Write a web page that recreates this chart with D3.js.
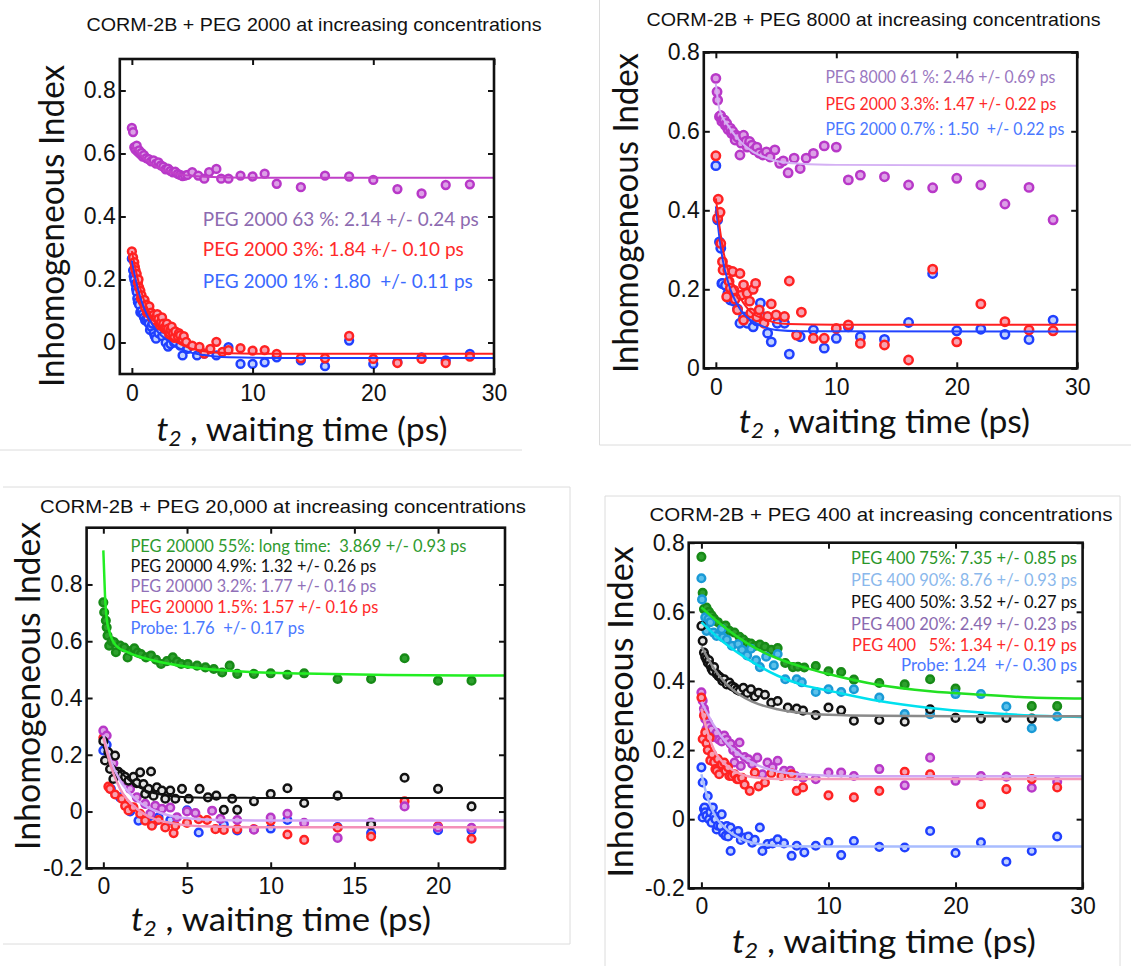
<!DOCTYPE html>
<html>
<head>
<meta charset="utf-8">
<script src="https://cdnjs.cloudflare.com/ajax/libs/d3/7.8.5/d3.min.js"></script>
<style>
  body { margin: 0; background: #fff; }
  svg { display: block; }
</style>
</head>
<body>
<svg id="chart" width="1131" height="966"></svg>
<script>
// ---------- Panel 1: CORM-2B + PEG 2000 ----------
const p1XTicks = [0, 10, 20, 30];
const p1YTicks = [0, 0.2, 0.4, 0.6, 0.8];
const p1Purple = [[0,0.681],[0.1,0.668],[0.2,0.62],[0.3,0.612],[0.4,0.625],[0.5,0.605],[0.6,0.61],[0.7,0.598],[0.8,0.602],[0.9,0.59],[1.0,0.595],[1.2,0.585],[1.4,0.582],[1.6,0.575],[1.8,0.578],[2.0,0.568],[2.2,0.572],[2.4,0.562],[2.6,0.558],[2.8,0.55],[3.0,0.552],[3.2,0.545],[3.4,0.54],[3.6,0.542],[3.8,0.535],[4.0,0.532],[4.2,0.528],[4.4,0.53],[4.6,0.532],[5.0,0.541],[5.5,0.53],[6.0,0.52],[6.4,0.541],[7.0,0.551],[7.4,0.52],[8.0,0.52],[9,0.53],[10,0.527],[11,0.536],[12,0.504],[14,0.493],[16,0.53],[18,0.527],[20,0.516],[22,0.487],[24,0.473],[26,0.50],[28,0.502]];
const p1Blue = [[0,0.266],[0.1,0.229],[0.15,0.21],[0.2,0.2],[0.3,0.186],[0.35,0.17],[0.4,0.16],[0.45,0.14],[0.5,0.128],[0.6,0.12],[0.7,0.096],[0.8,0.1],[0.9,0.09],[1.0,0.08],[1.1,0.07],[1.2,0.075],[1.3,0.08],[1.4,0.06],[1.5,0.04],[1.6,0.05],[1.7,0.06],[1.8,0.03],[1.9,0.02],[2.0,0.012],[2.2,0.03],[2.5,0.02],[2.8,0.0],[3.0,-0.013],[3.2,-0.005],[3.5,0.0],[4.0,-0.01],[4.2,-0.041],[4.6,-0.02],[5.4,-0.041],[6,-0.035],[7,-0.041],[8,-0.015],[9,-0.068],[10,-0.068],[11,-0.063],[12,-0.047],[14,-0.057],[16,-0.075],[18,0.006],[20,-0.068],[22,-0.062],[24,-0.047],[26,-0.057],[28,-0.036]];
const p1Red = [[0,0.289],[0.1,0.27],[0.2,0.255],[0.25,0.24],[0.3,0.23],[0.4,0.218],[0.5,0.19],[0.55,0.2],[0.6,0.175],[0.7,0.165],[0.75,0.14],[0.8,0.15],[0.9,0.13],[1.0,0.125],[1.05,0.135],[1.1,0.11],[1.2,0.12],[1.25,0.095],[1.3,0.1],[1.4,0.105],[1.45,0.115],[1.5,0.09],[1.6,0.095],[1.65,0.08],[1.7,0.085],[1.8,0.088],[1.9,0.07],[2.0,0.08],[2.1,0.09],[2.2,0.075],[2.3,0.055],[2.4,0.065],[2.5,0.08],[2.6,0.06],[2.7,0.045],[2.8,0.05],[2.9,0.06],[3.0,0.044],[3.1,0.025],[3.2,0.04],[3.3,0.05],[3.4,0.03],[3.5,0.015],[3.6,0.035],[3.8,0.02],[3.9,0.03],[4.0,0.023],[4.2,0.01],[4.3,0.02],[4.5,0.002],[5.0,-0.01],[5.6,-0.014],[6.0,-0.035],[6.5,-0.02],[7.0,0.002],[7.5,-0.03],[8.0,-0.024],[9,-0.018],[10,-0.026],[11,-0.024],[12,-0.036],[14,-0.05],[16,-0.05],[18,0.021],[20,-0.052],[22,-0.065],[24,-0.052],[26,-0.065],[28,-0.045]];
const p1PurpleFit = [[0,0.625],[1,0.585],[2,0.558],[3,0.543],[4,0.533],[6,0.526],[10,0.523],[30,0.523]];
const p1RedFit = [[0,0.29],[0.5,0.2],[1,0.135],[2,0.06],[3,0.02],[4,-0.005],[6,-0.028],[8,-0.034],[12,-0.036],[30,-0.036]];
const p1BlueFit = [[0,0.26],[0.5,0.17],[1,0.11],[2,0.04],[3,0.005],[4,-0.02],[6,-0.04],[8,-0.047],[12,-0.049],[30,-0.049]];
const p1Legend = ["PEG 2000 63 %: 2.14 +/- 0.24 ps", "PEG 2000 3%: 1.84 +/- 0.10 ps", "PEG 2000 1% : 1.80  +/- 0.11 ps"];

// ---------- Panel 2: CORM-2B + PEG 8000 ----------
const p2XTicks = [0, 10, 20, 30];
const p2YTicks = [0, 0.2, 0.4, 0.6, 0.8];
const p2Purple = [[0,0.734],[0.1,0.70],[0.15,0.679],[0.3,0.637],[0.4,0.64],[0.5,0.625],[0.6,0.63],[0.7,0.629],[0.8,0.615],[0.9,0.62],[1.0,0.605],[1.2,0.608],[1.3,0.595],[1.4,0.6],[1.6,0.578],[1.7,0.59],[1.8,0.585],[2.0,0.54],[2.1,0.57],[2.3,0.59],[2.5,0.575],[2.6,0.56],[2.8,0.574],[3.0,0.565],[3.2,0.553],[3.4,0.56],[3.6,0.545],[3.9,0.54],[4.2,0.548],[4.5,0.535],[4.9,0.553],[5.3,0.519],[5.6,0.525],[6.0,0.495],[6.5,0.532],[7.0,0.506],[7.5,0.532],[8.1,0.544],[9,0.563],[10,0.56],[11,0.477],[12,0.489],[14,0.485],[16,0.464],[18,0.457],[20,0.481],[22,0.464],[24,0.416],[26,0.458],[28,0.376]];
const p2Blue = [[0,0.513],[0.15,0.376],[0.3,0.32],[0.41,0.304],[0.5,0.215],[0.55,0.215],[0.8,0.21],[1.0,0.19],[1.2,0.173],[1.5,0.17],[1.8,0.15],[2.0,0.114],[2.3,0.13],[2.6,0.114],[3.1,0.105],[3.4,0.12],[3.7,0.165],[4.0,0.13],[4.3,0.089],[4.6,0.067],[5.1,0.114],[5.7,0.114],[6.1,0.036],[7.0,0.08],[8.1,0.097],[9,0.051],[10,0.076],[11,0.105],[12,0.08],[14,0.073],[16,0.116],[18,0.24],[20,0.095],[22,0.099],[24,0.086],[26,0.073],[28,0.122]];
const p2Red = [[0,0.538],[0.15,0.38],[0.2,0.428],[0.35,0.395],[0.41,0.316],[0.55,0.27],[0.6,0.249],[0.9,0.181],[1.0,0.249],[1.1,0.22],[1.2,0.203],[1.4,0.245],[1.5,0.198],[1.6,0.175],[1.8,0.148],[2.0,0.24],[2.1,0.185],[2.3,0.211],[2.3,0.122],[2.6,0.19],[2.8,0.17],[2.9,0.14],[3.1,0.2],[3.3,0.215],[3.4,0.13],[3.6,0.148],[4.0,0.114],[4.3,0.131],[4.6,0.163],[5.0,0.135],[5.7,0.131],[6.1,0.221],[6.7,0.084],[7.1,0.142],[8.1,0.076],[9,0.076],[10,0.101],[11,0.11],[12,0.063],[14,0.059],[16,0.021],[18,0.251],[20,0.067],[22,0.163],[24,0.118],[26,0.097],[28,0.095]];
const p2PurpleFit = [[0,0.72],[0.3,0.655],[1,0.615],[2,0.575],[3,0.55],[4,0.535],[5,0.525],[7,0.518],[10,0.515],[30,0.513]];
const p2RedFit = [[0,0.43],[0.3,0.36],[0.6,0.3],[1,0.25],[2,0.18],[3,0.14],[4,0.125],[5,0.115],[6,0.112],[10,0.11],[30,0.11]];
const p2BlueFit = [[0,0.41],[0.3,0.33],[0.6,0.27],[1,0.22],[2,0.15],[3,0.12],[4,0.105],[5,0.097],[7,0.094],[30,0.093]];
const p2Legend = ["PEG 8000 61 %: 2.46 +/- 0.69 ps", "PEG 2000 3.3%: 1.47 +/- 0.22 ps", "PEG 2000 0.7% : 1.50  +/- 0.22 ps"];

// ---------- Panel 3: CORM-2B + PEG 20,000 ----------
const p3XTicks = [0, 5, 10, 15, 20];
const p3YTicks = [-0.2, 0, 0.2, 0.4, 0.6, 0.8];
const p3Green = [[0,0.737],[0.05,0.702],[0.15,0.673],[0.2,0.649],[0.25,0.62],[0.35,0.584],[0.5,0.6],[0.65,0.596],[0.75,0.561],[1.0,0.585],[1.25,0.578],[1.45,0.543],[1.65,0.565],[1.85,0.575],[2.05,0.56],[2.25,0.555],[2.55,0.543],[2.85,0.55],[3.15,0.535],[3.45,0.52],[3.8,0.53],[4.15,0.543],[4.4,0.528],[4.65,0.52],[5.05,0.52],[5.6,0.514],[6.1,0.508],[6.6,0.502],[7.1,0.49],[7.55,0.514],[8,0.485],[9,0.485],[10,0.487],[11,0.482],[12,0.487],[14,0.467],[16,0.467],[18,0.54],[20,0.461],[22,0.461]];
const p3Blue = [[0,0.215],[0.2,0.235],[0.45,0.08],[1.0,0.05],[1.6,0.0],[2.1,-0.032],[3.0,-0.038],[3.3,-0.02],[4.0,-0.03],[5.0,0.004],[5.7,-0.074],[7.2,-0.046],[8,-0.067],[10,-0.06],[11,-0.03],[14,-0.055],[16,-0.076],[20,-0.066],[22,-0.066]];
const p3Red = [[0,0.26],[0.3,0.088],[0.4,0.08],[0.7,0.06],[1.1,0.045],[1.3,0.02],[1.5,0.004],[1.8,0.015],[2.2,-0.008],[2.5,-0.032],[2.9,-0.05],[3.3,-0.03],[3.7,-0.056],[4.2,-0.076],[4.3,-0.05],[5.0,-0.04],[5.7,-0.027],[6.2,-0.03],[6.7,-0.062],[7.2,-0.065],[8,-0.062],[9,-0.062],[10,-0.033],[11,-0.081],[12,-0.1],[14,-0.057],[16,-0.088],[18,0.036],[20,-0.052],[22,-0.096]];
const p3Purple = [[0,0.285],[0.2,0.268],[0.4,0.2],[0.6,0.17],[0.9,0.13],[1.3,0.109],[1.6,0.08],[2.0,0.05],[2.5,0.027],[2.8,-0.008],[3.1,0.02],[3.5,0.01],[4.0,0.014],[4.4,-0.02],[5.0,0.0],[5.5,-0.005],[6.5,0.003],[7.0,-0.026],[8.0,-0.03],[9,-0.064],[10,-0.021],[11,-0.008],[12,-0.04],[14,-0.093],[16,-0.039],[18,0.018],[20,-0.056],[22,-0.057]];
const p3Black = [[0,0.248],[0.1,0.18],[0.3,0.209],[0.4,0.15],[0.6,0.115],[0.7,0.197],[0.9,0.14],[1.1,0.13],[1.3,0.122],[1.5,0.109],[1.8,0.122],[2.0,0.1],[2.2,0.138],[2.4,0.097],[2.5,0.062],[2.7,0.08],[2.85,0.141],[3.0,0.056],[3.2,0.085],[3.5,0.074],[3.7,0.045],[4.0,0.074],[4.3,0.045],[4.7,0.08],[5.1,0.045],[5.75,0.08],[6.25,0.05],[6.75,0.056],[7.2,0.006],[7.7,0.045],[8,0.006],[9,0.036],[10,0.062],[11,0.082],[12,0.03],[14,0.056],[16,-0.046],[18,0.119],[20,0.08],[22,0.018]];
const p3GreenFit = [[0,0.92],[0.1,0.76],[0.2,0.68],[0.35,0.637],[0.75,0.585],[1.5,0.56],[3,0.532],[5,0.51],[8,0.494],[12,0.486],[17,0.481],[24,0.479]];
const p3BlackFit = [[0,0.23],[0.5,0.17],[1,0.14],[2,0.09],[3,0.065],[4,0.055],[6,0.049],[10,0.048],[24,0.048]];
const p3PurpleFit = [[0,0.27],[0.5,0.17],[1,0.11],[2,0.04],[3,0.005],[4,-0.015],[6,-0.028],[8,-0.031],[12,-0.032],[24,-0.032]];
const p3RedFit = [[0,0.26],[0.5,0.15],[1,0.08],[2,0.01],[3,-0.025],[4,-0.04],[6,-0.052],[9,-0.055],[24,-0.055]];
const p3Legend = ["PEG 20000 55%: long time:  3.869 +/- 0.93 ps", "PEG 20000 4.9%: 1.32 +/- 0.26 ps", "PEG 20000 3.2%: 1.77 +/- 0.16 ps", "PEG 20000 1.5%: 1.57 +/- 0.16 ps", "Probe: 1.76  +/- 0.17 ps"];

// ---------- Panel 4: CORM-2B + PEG 400 ----------
const p4XTicks = [0, 10, 20, 30];
const p4YTicks = [-0.2, 0, 0.2, 0.4, 0.6, 0.8];
const p4Green = [[0,0.759],[0.1,0.655],[0.2,0.608],[0.4,0.612],[0.6,0.6],[0.8,0.59],[1.0,0.58],[1.3,0.57],[1.6,0.555],[1.9,0.56],[2.2,0.545],[2.6,0.54],[3.0,0.528],[3.3,0.52],[3.6,0.51],[3.9,0.508],[4.2,0.501],[4.6,0.505],[5.0,0.499],[5.5,0.49],[6.0,0.495],[6.6,0.452],[7.2,0.44],[7.6,0.441],[8.1,0.439],[9,0.443],[10,0.428],[11,0.426],[12,0.404],[14,0.394],[16,0.39],[18,0.405],[20,0.378],[26,0.327],[28,0.327]];
const p4Cyan = [[0,0.697],[0.05,0.636],[0.3,0.584],[0.4,0.545],[0.55,0.579],[0.7,0.57],[0.95,0.54],[1.2,0.53],[1.6,0.55],[1.7,0.526],[2.0,0.52],[2.4,0.502],[2.9,0.507],[3.2,0.49],[3.6,0.474],[3.9,0.493],[4.3,0.46],[4.6,0.44],[5.1,0.47],[5.7,0.445],[6.0,0.478],[6.6,0.405],[7.5,0.405],[7.9,0.396],[9,0.368],[10,0.376],[11,0.368],[12,0.376],[14,0.352],[16,0.304],[18,0.304],[20,0.362],[22,0.362],[24,0.326],[26,0.263],[28,0.297]];
const p4Black = [[0,0.559],[0.1,0.516],[0.2,0.482],[0.3,0.47],[0.4,0.463],[0.5,0.453],[0.6,0.46],[0.7,0.445],[0.8,0.435],[0.9,0.429],[1.0,0.44],[1.2,0.42],[1.35,0.414],[1.5,0.41],[1.65,0.4],[1.8,0.405],[2.0,0.39],[2.2,0.395],[2.4,0.385],[2.6,0.381],[2.8,0.375],[3.0,0.371],[3.3,0.38],[3.6,0.365],[3.9,0.376],[4.2,0.355],[4.5,0.366],[5.0,0.36],[5.5,0.337],[6.0,0.342],[6.8,0.323],[7.5,0.32],[8.0,0.314],[9,0.301],[10,0.323],[11,0.315],[12,0.285],[14,0.287],[16,0.282],[18,0.318],[20,0.293],[22,0.291],[24,0.293],[26,0.291]];
const p4Purple = [[0,0.367],[0.1,0.343],[0.2,0.32],[0.25,0.309],[0.3,0.29],[0.4,0.261],[0.5,0.28],[0.6,0.27],[0.7,0.25],[0.8,0.26],[1.0,0.237],[1.2,0.25],[1.4,0.23],[1.6,0.225],[1.8,0.242],[2.0,0.23],[2.3,0.218],[2.5,0.2],[2.6,0.164],[2.8,0.19],[3.0,0.222],[3.1,0.154],[3.4,0.18],[3.7,0.173],[4.0,0.16],[4.4,0.178],[4.8,0.13],[5.2,0.164],[5.6,0.15],[6.0,0.169],[6.5,0.14],[7.0,0.14],[7.4,0.125],[8,0.12],[9,0.116],[10,0.135],[11,0.135],[12,0.125],[14,0.145],[16,0.098],[18,0.178],[20,0.111],[22,0.125],[24,0.123],[26,0.091],[28,0.108]];
const p4Red = [[0,0.352],[0.1,0.232],[0.2,0.3],[0.3,0.251],[0.4,0.22],[0.5,0.2],[0.65,0.236],[0.7,0.17],[0.85,0.188],[1.0,0.165],[1.1,0.145],[1.2,0.14],[1.3,0.174],[1.4,0.13],[1.6,0.159],[1.8,0.164],[1.9,0.14],[2.1,0.15],[2.2,0.125],[2.4,0.125],[2.6,0.13],[2.8,0.116],[2.9,0.116],[3.2,0.12],[3.4,0.1],[3.8,0.082],[4.2,0.135],[4.5,0.095],[5.0,0.106],[5.5,0.133],[6.3,0.125],[7.1,0.13],[7.5,0.082],[8,0.092],[10,0.069],[12,0.063],[14,0.082],[16,0.137],[18,0.13],[22,0.043],[24,0.087],[26,0.116],[28,0.092]];
const p4Blue = [[0,0.15],[0.1,0.106],[0.1,0.005],[0.2,0.03],[0.25,0.034],[0.3,0.02],[0.4,0.01],[0.5,0.067],[0.6,0.0],[0.7,0.02],[0.8,-0.01],[0.9,0.034],[1.0,0.01],[1.1,0.0],[1.2,-0.03],[1.3,-0.019],[1.5,-0.02],[1.6,0.014],[1.7,-0.04],[1.9,-0.048],[2.0,-0.02],[2.1,-0.05],[2.3,-0.024],[2.3,-0.092],[2.6,-0.04],[2.9,-0.034],[3.1,-0.06],[3.4,-0.053],[3.7,-0.05],[4.0,-0.068],[4.2,-0.06],[4.6,-0.024],[4.8,-0.092],[5.2,-0.072],[5.6,-0.07],[6.0,-0.058],[6.5,-0.07],[7.1,-0.106],[7.5,-0.077],[8.1,-0.096],[9,-0.077],[10,-0.066],[11,-0.104],[12,-0.063],[14,-0.08],[16,-0.082],[18,-0.034],[20,-0.098],[22,-0.067],[24,-0.123],[26,-0.092],[28,-0.05]];
const p4GreenFit = [[0,0.613],[1,0.58],[2,0.55],[4,0.5],[6,0.465],[8,0.44],[10,0.42],[14,0.388],[18,0.37],[22,0.36],[26,0.352],[30,0.349]];
const p4CyanFit = [[0,0.57],[1,0.535],[2,0.505],[4,0.455],[6,0.415],[8,0.388],[10,0.372],[14,0.342],[18,0.322],[22,0.309],[26,0.3],[30,0.296]];
const p4BlackFit = [[0,0.5],[1,0.435],[2,0.39],[3,0.36],[4,0.34],[6,0.318],[8,0.307],[10,0.302],[14,0.299],[20,0.298],[30,0.298]];
const p4PurpleFit = [[0,0.34],[1,0.27],[2,0.22],[3,0.187],[4,0.163],[5,0.148],[6,0.138],[8,0.129],[10,0.126],[14,0.124],[30,0.124]];
const p4RedFit = [[0,0.32],[0.5,0.25],[1,0.2],[2,0.155],[3,0.132],[4,0.122],[5,0.118],[7,0.116],[30,0.116]];
const p4BlueFit = [[0,0.13],[0.5,0.06],[1,0.015],[2,-0.03],[3,-0.055],[4,-0.068],[5,-0.074],[7,-0.078],[10,-0.079],[30,-0.079]];
const p4Legend = ["PEG 400 75%: 7.35 +/- 0.85 ps", "PEG 400 90%: 8.76 +/- 0.93 ps", "PEG 400 50%: 3.52 +/- 0.27 ps", "PEG 400 20%: 2.49 +/- 0.23 ps", "PEG 400   5%: 1.34 +/- 0.19 ps", "Probe: 1.24  +/- 0.30 ps"];

const titles = [
  "CORM-2B + PEG 2000 at increasing concentrations",
  "CORM-2B + PEG 8000 at increasing concentrations",
  "CORM-2B + PEG 20,000 at increasing concentrations",
  "CORM-2B + PEG 400 at increasing concentrations"
];

// marker styles
const mk = {
  purple: { stroke: '#b838c8', fill: '#dca0e6' },
  red:    { stroke: '#ff2222', fill: '#f7a3b2' },
  blue:   { stroke: '#2040ff', fill: '#c0d0ff' },
  black:  { stroke: '#111111', fill: '#e4e4e4' },
  green:  { stroke: '#178a17', fill: '#2ea02e' },
  cyan:   { stroke: '#1a9ad6', fill: '#5cc0ea' }
};

const svg = d3.select('#chart');
const labelFont = 'Lato, "Open Sans", sans-serif';
const axisFont = '"Liberation Sans", Arial, sans-serif';

// faint panel borders
const borders = [
  [0, 450, 522, 450],
  [599.5, 0, 599.5, 445], [599.5, 445, 1131, 445],
  [3, 487, 570, 487], [3, 944, 570, 944], [570, 487, 570, 944],
  [605, 496, 1120, 496], [605, 496, 605, 966], [1120, 496, 1120, 966]
];
svg.append('g').selectAll('line').data(borders).join('line')
  .attr('x1', d => d[0]).attr('y1', d => d[1]).attr('x2', d => d[2]).attr('y2', d => d[3])
  .attr('stroke', '#dcdcdc').attr('stroke-width', 1);

const panels = [
  {
    id: 1, box: [119.8, 494, 59, 374], xDomain: [-1, 30], yDomain: [-0.1, 0.9],
    xTicks: p1XTicks, yTicks: p1YTicks, r: 3.9, pad: 11,
    title: { text: titles[0], cx: 314, y: 30.5, len: 455, size: 18.5 },
    ylab: { x: 64, cy: 226, len: 322 }, xlab: { cx: 302, y: 441, len: 291 },
    series: [[p1Purple, mk.purple], [p1Blue, mk.blue], [p1Red, mk.red]],
    fits: [[p1PurpleFit, '#c040c8', 2], [p1BlueFit, '#2040ff', 2], [p1RedFit, '#ff2020', 2]],
    legend: { lines: p1Legend, colors: ['#8d6bb0', '#ff2a2a', '#3a6aff'], x: 202.8, ys: [226, 256, 288], lens: [276, 261, 270], size: 20, anchor: 'start' }
  },
  {
    id: 2, box: [703.8, 1077.2, 52.3, 368.3], xDomain: [-1, 30], yDomain: [0, 0.8],
    xTicks: p2XTicks, yTicks: p2YTicks, r: 4.2, pad: 10,
    title: { text: titles[1], cx: 873.6, y: 26, len: 454, size: 18.5 },
    ylab: { x: 638, cy: 213, len: 320 }, xlab: { cx: 884.6, y: 433, len: 291 },
    series: [[p2Purple, mk.purple], [p2Blue, mk.blue], [p2Red, mk.red]],
    fits: [[p2PurpleFit, '#d4b0f4', 2], [p2BlueFit, '#2244ff', 2], [p2RedFit, '#ff2020', 2]],
    legend: { lines: p2Legend, colors: ['#9a78bf', '#ff2a2a', '#4a78ff'], x: 825.4, ys: [83, 110, 135], lens: [230, 231, 239], size: 17, anchor: 'start' }
  },
  {
    id: 3, box: [86.6, 505, 527.7, 868.3], xDomain: [-1, 24], yDomain: [-0.2, 1.0],
    xTicks: p3XTicks, yTicks: p3YTicks, r: 3.8, pad: 9,
    title: { text: titles[2], cx: 283, y: 513, len: 486, size: 18.5 },
    ylab: { x: 39.5, cy: 686, len: 328 }, xlab: { cx: 281, y: 931, len: 300 },
    series: [[p3Green, mk.green], [p3Blue, mk.blue], [p3Red, mk.red], [p3Purple, mk.purple], [p3Black, mk.black]],
    fits: [[p3GreenFit, '#22ee22', 2.5], [p3BlackFit, '#111111', 2], [p3PurpleFit, '#d2a8f6', 2.5], [p3RedFit, '#f490b8', 2.5]],
    legend: { lines: p3Legend, colors: ['#2e9a2e', '#111111', '#9070b8', '#ff2a2a', '#4a78ff'], x: 130.4, ys: [552, 571.5, 592, 613, 634], lens: [336, 246, 246, 248, 174], size: 16.5, anchor: 'start' }
  },
  {
    id: 4, box: [688.7, 1082.6, 542.7, 888.3], xDomain: [-1, 30], yDomain: [-0.2, 0.8],
    xTicks: p4XTicks, yTicks: p4YTicks, r: 3.8, pad: 9,
    title: { text: titles[3], cx: 881, y: 520.5, len: 463, size: 18.5 },
    ylab: { x: 632.6, cy: 712, len: 331 }, xlab: { cx: 884, y: 953, len: 304 },
    series: [[p4Green, mk.green], [p4Cyan, mk.cyan], [p4Black, mk.black], [p4Purple, mk.purple], [p4Red, mk.red], [p4Blue, mk.blue]],
    fits: [[p4GreenFit, '#22e022', 2.5], [p4CyanFit, '#00e0ee', 2.5], [p4BlackFit, '#8a8a8a', 2.5], [p4PurpleFit, '#d0a8f4', 2.5], [p4RedFit, '#f69ab8', 2.5], [p4BlueFit, '#a8bcff', 2.5]],
    legend: { lines: p4Legend, colors: ['#2a962a', '#8ab8ec', '#111111', '#8a6ab0', '#ff2a2a', '#4a78ff'], x: 1077, ys: [564, 586, 608, 630, 651, 671], lens: [226, 226, 226, 226, 225, 176], size: 17, anchor: 'end' }
  }
];

function drawPanel(p) {
  const [bx0, bx1, by0, by1] = p.box;
  const x = d3.scaleLinear().domain(p.xDomain).range([bx0, bx1]);
  const y = d3.scaleLinear().domain(p.yDomain).range([by1, by0]);
  const g = svg.append('g');

  // clip region for marks
  svg.append('clipPath').attr('id', 'clip' + p.id)
    .append('rect').attr('x', bx0).attr('y', by0).attr('width', bx1 - bx0).attr('height', by1 - by0);
  const plot = g.append('g').attr('clip-path', `url(#clip${p.id})`);

  // data points
  p.series.forEach(([pts, style]) => {
    plot.append('g').selectAll('circle').data(pts).join('circle')
      .attr('cx', d => x(d[0]))
      .attr('cy', d => y(d[1]))
      .attr('r', p.r)
      .attr('fill', style.fill)
      .attr('stroke', style.stroke)
      .attr('stroke-width', 2.5);
  });

  // fit curves
  const line = d3.line().x(d => x(d[0])).y(d => y(d[1])).curve(d3.curveMonotoneX);
  p.fits.forEach(([pts, color, w]) => {
    plot.append('path').datum(pts).attr('d', line)
      .attr('fill', 'none').attr('stroke', color).attr('stroke-width', w);
  });

  // axes (ticks pointing inwards)
  const styleAxis = sel => {
    sel.select('.domain').remove();
    sel.selectAll('.tick line').attr('stroke', '#111').attr('stroke-width', 2);
    sel.selectAll('.tick text').attr('fill', '#111');
    sel.attr('font-family', axisFont).attr('font-size', 23);
  };
  g.append('g').attr('transform', `translate(0,${by1})`)
    .call(d3.axisBottom(x).tickValues(p.xTicks).tickSizeInner(-6).tickSizeOuter(0).tickPadding(p.pad).tickFormat(d => String(d)))
    .call(styleAxis);
  g.append('g').attr('transform', `translate(0,${by0})`)
    .call(d3.axisTop(x).tickValues(p.xTicks).tickSizeInner(-6).tickSizeOuter(0).tickFormat(''))
    .call(styleAxis);
  g.append('g').attr('transform', `translate(${bx0},0)`)
    .call(d3.axisLeft(y).tickValues(p.yTicks).tickSizeInner(-6).tickSizeOuter(0).tickPadding(4).tickFormat(d => String(d)))
    .call(styleAxis);
  g.append('g').attr('transform', `translate(${bx1},0)`)
    .call(d3.axisRight(y).tickValues(p.yTicks).tickSizeInner(-6).tickSizeOuter(0).tickFormat(''))
    .call(styleAxis);

  // frame
  g.append('rect').attr('x', bx0).attr('y', by0).attr('width', bx1 - bx0).attr('height', by1 - by0)
    .attr('fill', 'none').attr('stroke', '#111').attr('stroke-width', 2.6);

  // title
  g.append('text').attr('x', p.title.cx).attr('y', p.title.y)
    .attr('text-anchor', 'middle').attr('font-family', axisFont).attr('font-size', p.title.size)
    .attr('fill', '#111').attr('textLength', p.title.len).attr('lengthAdjust', 'spacingAndGlyphs')
    .text(p.title.text);

  // y label
  g.append('text').attr('transform', `translate(${p.ylab.x},${p.ylab.cy}) rotate(-90)`)
    .attr('text-anchor', 'middle').attr('font-family', labelFont).attr('font-size', 34)
    .attr('fill', '#111').attr('textLength', p.ylab.len).attr('lengthAdjust', 'spacingAndGlyphs')
    .text('Inhomogeneous Index');

  // x label
  const xl = g.append('text').attr('x', p.xlab.cx).attr('y', p.xlab.y)
    .attr('text-anchor', 'middle').attr('font-family', labelFont).attr('font-size', 33)
    .attr('fill', '#111').attr('textLength', p.xlab.len).attr('lengthAdjust', 'spacingAndGlyphs');
  xl.append('tspan').attr('font-style', 'italic').text('t');
  xl.append('tspan').attr('font-style', 'italic').attr('font-size', 22).attr('dy', 5).text('2');
  xl.append('tspan').attr('dy', -5).text(' , waiting time (ps)');

  // legend text
  const lg = p.legend;
  lg.lines.forEach((t, i) => {
    g.append('text').attr('x', lg.x).attr('y', lg.ys[i])
      .attr('text-anchor', lg.anchor).attr('font-family', labelFont).attr('font-size', lg.size)
      .attr('fill', lg.colors[i]).attr('textLength', lg.lens[i]).attr('lengthAdjust', 'spacingAndGlyphs')
      .style('white-space', 'pre')
      .text(t);
  });
}

panels.forEach(drawPanel);
</script>
</body>
</html>
